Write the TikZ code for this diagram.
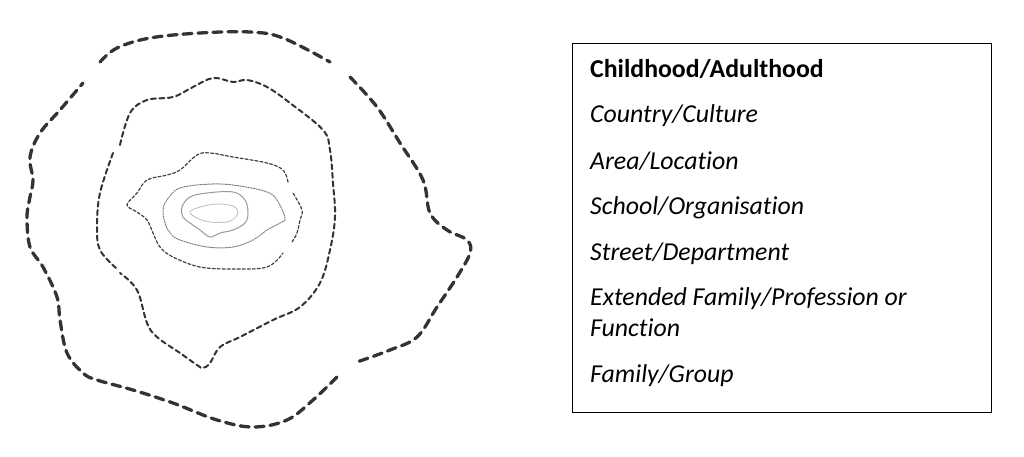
\documentclass[tikz,border=0pt]{standalone}
\usepackage{fontspec}
\setmainfont{Carlito}[Ligatures=NoCommon]
\begin{document}
\begin{tikzpicture}[x=1pt,y=-1pt,
  ringA/.style={line width=3.3pt,draw=black!80,dash pattern=on 9pt off 6pt},
  ringB/.style={line width=2pt,draw=black!80,dash pattern=on 5pt off 3.5pt},
  ringC/.style={line width=1.2pt,draw=black!75,dash pattern=on 3pt off 2pt},
  ringD/.style={line width=1pt,draw=black!50,dash pattern=on 1.5pt off 1.2pt},
  ringE/.style={line width=1pt,draw=black!40},
  ringF/.style={line width=1pt,draw=black!25,dash pattern=on 1.5pt off 1pt},
  lbl/.style={anchor=base west,inner sep=0pt,font=\fontsize{25.8}{31}\selectfont},
  line cap=round]
\useasboundingbox (0,0) rectangle (1024,457);
% outer ring
\draw[ringA] plot[smooth,tension=0.6] coordinates {(100,62) (117,48) (150,38) (200,33) (250,32) (283,38) (330,62)};
\draw[ringA] plot[smooth,tension=0.6] coordinates {(350,77) (377,107) (400,143) (423,180) (430,213) (447,230) (467,240) (470,253) (457,277) (437,307) (417,337) (390,350) (357,362)};
\draw[ringA] plot[smooth,tension=0.6] coordinates {(337,377) (313,400) (287,420) (253,427) (217,420) (173,403) (133,390) (97,380) (83,373) (67,353) (60,320) (57,297) (43,267) (30,247) (27,217) (30,197) (33,180) (30,157) (40,133) (60,110) (83,83)};
% second ring
\draw[ringB] plot[smooth,tension=0.6] coordinates {(120,145) (130,113) (147,100) (173,97) (193,87) (213,78) (233,82) (247,80) (267,87) (290,103) (323,130) (330,150) (333,183) (335,217) (330,250) (320,283) (300,307) (273,320) (240,337) (220,347) (210,363) (203,368) (197,365) (180,353) (157,337) (147,323) (137,290) (120,273)};
\draw[ringB] plot[smooth,tension=0.6] coordinates {(116,268) (100,250) (97,227) (100,193) (113,153)};
% third ring
\draw[ringC] plot[smooth,tension=0.6] coordinates {(288,182) (283,170) (267,163) (233,157) (210,153) (197,155) (180,170) (167,175) (147,180) (137,193) (127,205) (137,212) (147,220) (153,233) (160,247) (173,257) (200,267) (233,269) (267,267) (283,253)};
\draw[ringC] plot[smooth,tension=0.6] coordinates {(292,242) (297,233) (300,220) (302,210) (293,193)};
% fourth ring
\draw[ringD] plot[smooth cycle,tension=0.6] coordinates {(180,188) (213,184) (240,186) (267,192) (277,200) (285,218) (280,223) (267,230) (253,240) (233,247) (207,247) (180,240) (170,233) (165,223) (163,210) (167,200)};
% fifth ring
\draw[ringE] plot[smooth cycle,tension=0.6] coordinates {(190,197) (207,193) (233,192) (245,200) (248,213) (245,223) (233,230) (220,233) (210,237) (200,230) (190,223) (183,217) (182,207)};
% sixth ring
\draw[ringF] plot[smooth cycle,tension=0.6] coordinates {(190,212) (200,207) (217,204) (233,206) (238,212) (235,218) (227,222) (210,222) (197,218)};
% legend box
\node[draw=black,line width=1.3pt,minimum width=419pt,minimum height=369pt,anchor=north west,inner sep=0pt] (box) at (572,43) {};
\node[lbl,font=\fontsize{25.8}{31}\selectfont\bfseries] (t1) at (590,77.7) {Childhood/Adulthood};
\node[lbl] (t2) at (590,123) {\itshape Country/Culture};
\node[lbl] (t3) at (590,169) {\itshape Area/Location};
\node[lbl] (t4) at (590,214) {\itshape School/Organisation};
\node[lbl] (t5) at (590,260) {\itshape Street/Department};
\node[lbl] (t6) at (590,305.7) {\itshape Extended Family/Profession or};
\node[lbl] (t7) at (590,336.7) {\itshape Function};
\node[lbl] (t8) at (590,382) {\itshape Family/Group};
\end{tikzpicture}
\end{document}
